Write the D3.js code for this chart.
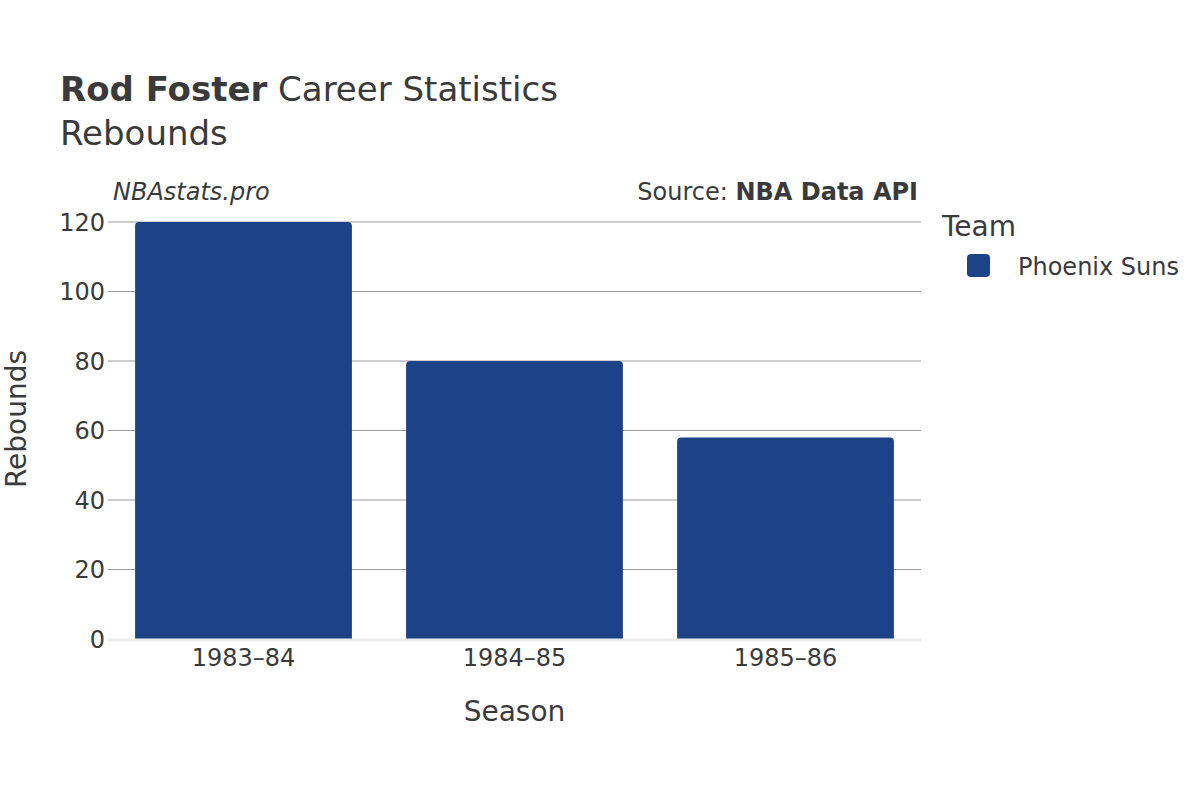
<!DOCTYPE html>
<html><head><meta charset="utf-8">
<script src="https://cdn.jsdelivr.net/npm/d3@7"></script>
<style>body{margin:0;background:#fff;} text{font-family:"DejaVu Sans",sans-serif;fill:#3a3a3a;}</style>
</head><body>
<script>
const seasons = ["1983\u201384", "1984\u201385", "1985\u201386"];
const rebounds = [120, 80, 58];
const team = "Phoenix Suns";
const yTicks = [0, 20, 40, 60, 80, 100, 120];
const barColor = "#1c4287";

const W = 1200, H = 800;
const m = {left: 108, right: 921, top: 222, bottom: 639};
const svg = d3.select("body").append("svg").attr("width", W).attr("height", H);

const x = d3.scaleBand().domain(seasons).range([m.left, m.right]).paddingInner(0.2).paddingOuter(0.1);
const y = d3.scaleLinear().domain([0, 120]).range([m.bottom, m.top]);

// gridlines
svg.append("g").selectAll("line").data(yTicks.filter(d => d > 0)).join("line")
  .attr("x1", m.left).attr("x2", m.right)
  .attr("y1", d => y(d)).attr("y2", d => y(d))
  .attr("stroke", "#9a9a9a").attr("stroke-width", 1);

// bars with rounded top corners
const r = 4;
svg.append("g").selectAll("path").data(rebounds).join("path")
  .attr("d", (d, i) => {
    const x0 = x(seasons[i]), w = x.bandwidth(), y0 = y(d), yb = y(0);
    return `M${x0},${yb} L${x0},${y0 + r} Q${x0},${y0} ${x0 + r},${y0} L${x0 + w - r},${y0} Q${x0 + w},${y0} ${x0 + w},${y0 + r} L${x0 + w},${yb} Z`;
  })
  .attr("fill", barColor);

// zero line
svg.append("line").attr("x1", m.left).attr("x2", m.right)
  .attr("y1", y(0) + 1).attr("y2", y(0) + 1)
  .attr("stroke", "#ebebeb").attr("stroke-width", 3);

// y axis
const yAxis = d3.axisLeft(y).tickValues(yTicks).tickSize(0).tickPadding(4);
const gy = svg.append("g").attr("transform", `translate(${m.left},0)`).call(yAxis);
gy.select(".domain").remove();
gy.selectAll("text").style("font-size", "24px").attr("fill", "#3a3a3a").attr("dy", "0.35em").attr("x", -3);

// x axis
const xAxis = d3.axisBottom(x).tickSize(0).tickPadding(10);
const gx = svg.append("g").attr("transform", `translate(0,${m.bottom})`).call(xAxis);
gx.select(".domain").remove();
gx.selectAll("text").style("font-size", "24px").attr("fill", "#3a3a3a").attr("dy", "0.71em").attr("y", 10);

// axis titles
svg.append("text").attr("x", (m.left + m.right) / 2).attr("y", 721).attr("text-anchor", "middle")
  .style("font-size", "28px").text("Season");
svg.append("text").attr("transform", "translate(26,419) rotate(-90)").attr("text-anchor", "middle")
  .style("font-size", "28px").text("Rebounds");

// title
const t = svg.append("text").attr("x", 60).attr("y", 101).style("font-size", "34px");
t.append("tspan").style("font-weight", "bold").text("Rod Foster");
t.append("tspan").text(" Career Statistics");
svg.append("text").attr("x", 60).attr("y", 145).style("font-size", "34px").text("Rebounds");

// watermark / source
svg.append("text").attr("x", 113).attr("y", 200).style("font-size", "24px").style("font-style", "italic").text("NBAstats.pro");
const s = svg.append("text").attr("x", 918).attr("y", 200).attr("text-anchor", "end").style("font-size", "24px");
s.append("tspan").text("Source: ");
s.append("tspan").style("font-weight", "bold").text("NBA Data API");

// legend
svg.append("text").attr("x", 942).attr("y", 236).style("font-size", "28px").text("Team");
svg.append("rect").attr("x", 967).attr("y", 254).attr("width", 23).attr("height", 23).attr("rx", 4).attr("fill", barColor);
svg.append("text").attr("x", 1018).attr("y", 275).style("font-size", "24px").text(team);
</script>
</body></html>
